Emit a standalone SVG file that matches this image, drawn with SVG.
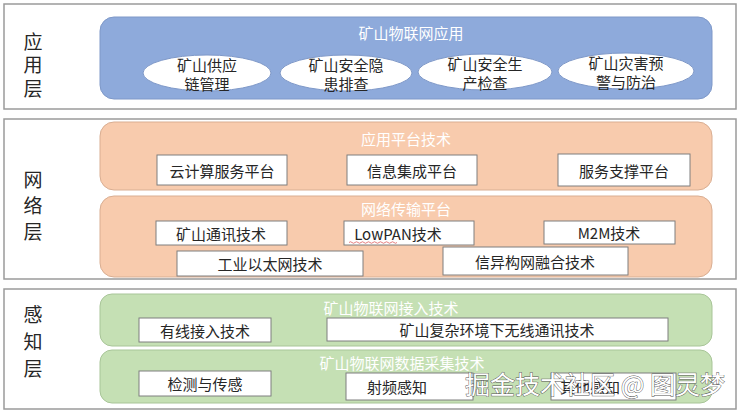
<svg xmlns="http://www.w3.org/2000/svg" width="740" height="414" viewBox="0 0 740 414">
<style>
text{font-family:"Noto Sans CJK SC","Microsoft YaHei","Liberation Sans",sans-serif;dominant-baseline:central;text-anchor:middle}
.panel{fill:#ffffff;stroke:#9a9a9a;stroke-width:1.5}
.lbl{font-size:19px;fill:#262626}
.blue{fill:#8eaadb;stroke:#7e98c8;stroke-width:1}
.orange{fill:#f8cbad;stroke:#d9ae92;stroke-width:1}
.green{fill:#c5e0b4;stroke:#a8c598;stroke-width:1}
.ttl{font-size:15px;fill:#ffffff}
.box{fill:#ffffff;stroke:#7f7f7f;stroke-width:1}
.ell{fill:#ffffff;stroke:#7e98c8;stroke-width:1}
.t{font-size:15px;fill:#262626}
.wm{font-size:25px;fill:#ffffff;stroke:#555555;stroke-width:0.9;paint-order:stroke}
</style>
<rect width="740" height="414" fill="#ffffff"/>

<g id="layer-app">
<rect class="panel" x="4" y="4" width="732" height="105"/>
<text class="lbl" x="33" y="40">应</text>
<text class="lbl" x="33" y="63">用</text>
<text class="lbl" x="33" y="87">层</text>
</g>
<g id="app-group">
<rect class="blue" x="100" y="17" width="612" height="82" rx="14"/>
<text class="ttl" x="411" y="32">矿山物联网应用</text>
</g>
<g id="app-1"><ellipse class="ell" cx="207" cy="73" rx="64" ry="18"/><text class="t" x="207" y="64">矿山供应</text><text class="t" x="207" y="83">链管理</text></g>
<g id="app-2"><ellipse class="ell" cx="346" cy="73" rx="66" ry="18"/><text class="t" x="346" y="64">矿山安全隐</text><text class="t" x="346" y="83">患排查</text></g>
<g id="app-3"><ellipse class="ell" cx="485" cy="72" rx="67" ry="18"/><text class="t" x="485" y="63">矿山安全生</text><text class="t" x="485" y="82">产检查</text></g>
<g id="app-4"><ellipse class="ell" cx="626" cy="71" rx="68" ry="18"/><text class="t" x="626" y="62">矿山灾害预</text><text class="t" x="626" y="81">警与防治</text></g>

<g id="layer-net">
<rect class="panel" x="4" y="119" width="732" height="160"/>
<text class="lbl" x="33" y="178">网</text>
<text class="lbl" x="33" y="204">络</text>
<text class="lbl" x="33" y="230">层</text>
</g>
<g id="platform-group">
<rect class="orange" x="100" y="122" width="612" height="68" rx="14"/>
<text class="ttl" x="406" y="138">应用平台技术</text>
</g>
<g id="cloud"><rect class="box" x="157" y="155" width="130" height="30"/><text class="t" x="222" y="170">云计算服务平台</text></g>
<g id="info"><rect class="box" x="347" y="155" width="130" height="30"/><text class="t" x="412" y="170">信息集成平台</text></g>
<g id="service"><rect class="box" x="558" y="154" width="132" height="32"/><text class="t" x="624" y="170">服务支撑平台</text></g>

<g id="transport-group">
<rect class="orange" x="100" y="196" width="612" height="81" rx="14"/>
<text class="ttl" x="406" y="208">网络传输平台</text>
</g>
<g id="minecomm"><rect class="box" x="156" y="221" width="131" height="24"/><text class="t" x="221" y="233">矿山通讯技术</text></g>
<g id="lowpan"><rect class="box" x="344" y="221" width="130" height="24"/><text class="t" x="398" y="233">LowPAN技术</text>
<path d="M349 242.5 q1.5 -1.5 3 0 t3 0 t3 0 t3 0 t3 0 t3 0 t3 0 t3 0 t3 0 t3 0 t3 0 t3 0 t3 0 t3 0 t3 0 t3 0" fill="none" stroke="#e06060" stroke-width="0.8"/></g>
<g id="m2m"><rect class="box" x="544" y="221" width="131" height="23"/><text class="t" x="609" y="232">M2M技术</text></g>
<g id="ethernet"><rect class="box" x="177" y="251" width="186" height="25"/><text class="t" x="270" y="263">工业以太网技术</text></g>
<g id="hetero"><rect class="box" x="443" y="247" width="185" height="28"/><text class="t" x="535" y="261">信异构网融合技术</text></g>

<g id="layer-sense">
<rect class="panel" x="4" y="289" width="732" height="120"/>
<text class="lbl" x="33" y="313">感</text>
<text class="lbl" x="33" y="340">知</text>
<text class="lbl" x="33" y="367">层</text>
</g>
<g id="access-group">
<rect class="green" x="100" y="294" width="612" height="52" rx="12"/>
<text class="ttl" x="391" y="307">矿山物联网接入技术</text>
</g>
<g id="wired"><rect class="box" x="139" y="318" width="132" height="24"/><text class="t" x="205" y="330">有线接入技术</text></g>
<g id="wireless"><rect class="box" x="327" y="318" width="341" height="23"/><text class="t" x="497" y="329">矿山复杂环境下无线通讯技术</text></g>
<g id="collect-group">
<rect class="green" x="100" y="350" width="612" height="53" rx="12"/>
<text class="ttl" x="402" y="362">矿山物联网数据采集技术</text>
</g>
<g id="detect"><rect class="box" x="139" y="371" width="132" height="25"/><text class="t" x="205" y="383">检测与传感</text></g>
<g id="rfid"><rect class="box" x="346" y="373" width="127" height="27"/><text class="t" x="397" y="386">射频感知</text></g>
<g id="other"><rect class="box" x="551" y="373" width="125" height="27"/><text class="t" x="590" y="386">其他感知</text></g>

<g id="watermark">
<text class="wm" x="595" y="383">掘金技术社区 @ 图灵梦</text>
</g>
</svg>
